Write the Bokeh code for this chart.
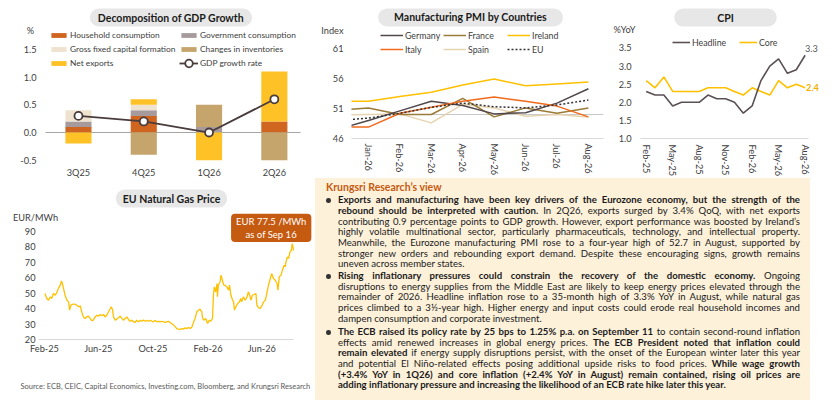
import numpy as np
from bokeh.plotting import figure
from bokeh.models import (Range1d, FixedTicker, NumeralTickFormatter, Span, Label,
                          Legend, LegendItem, Div, LinearAxis)
from bokeh.layouts import row, column
from bokeh.embed import file_html
from bokeh.resources import INLINE

FONT = "Lato"
TXT = "#404040"

# ---------------- data ----------------
gdp_quarters = ["3Q25", "4Q25", "1Q26", "2Q26"]
household = [0.1, 0.3, 0.0, 0.2]
government = [0.1, 0.1, 0.1, 0.0]
gfcf = [0.2, 0.1, 0.0, 0.0]
inventories = [0.0, -0.4, 0.4, -0.5]
net_exports = [-0.2, 0.1, -0.5, 0.9]
gdp_growth = [0.3, 0.2, 0.0, 0.6]

pmi_months = ["Dec-25", "Jan-26", "Feb-26", "Mar-26", "Apr-26", "May-26", "Jun-26", "Jul-26", "Aug-26"]
pmi_germany = [47.5, 49.0, 50.6, 52.2, 51.5, 50.1, 50.3, 51.9, 54.3]
pmi_france = [50.7, 51.1, 50.0, 50.0, 52.7, 49.6, 51.1, 50.2, 51.1]
pmi_ireland = [52.2, 52.2, 53.0, 53.7, 54.9, 55.9, 54.8, 55.1, 55.4]
pmi_italy = [47.9, 47.9, 50.2, 51.2, 52.2, 52.9, 52.2, 51.4, 49.6]
pmi_spain = [49.9, 50.0, 50.1, 48.6, 51.7, 51.1, 49.7, 50.0, 49.6]
pmi_eu = [49.0, 49.4, 50.2, 51.2, 51.9, 51.3, 51.1, 51.6, 52.4]

cpi_months = ["Feb-25", "Mar-25", "Apr-25", "May-25", "Jun-25", "Jul-25", "Aug-25", "Sep-25",
              "Oct-25", "Nov-25", "Dec-25", "Jan-26", "Feb-26", "Mar-26", "Apr-26", "May-26",
              "Jun-26", "Jul-26", "Aug-26"]
cpi_headline = [2.3, 2.2, 2.2, 1.9, 2.0, 2.0, 2.0, 2.2, 2.1, 2.1, 2.0, 1.7, 1.9, 2.6, 3.0, 3.2, 2.8, 2.9, 3.3]
cpi_core = [2.6, 2.4, 2.7, 2.3, 2.3, 2.3, 2.3, 2.4, 2.4, 2.4, 2.3, 2.2, 2.4, 2.3, 2.2, 2.6, 2.4, 2.5, 2.4]

# days since 1 Feb 2025
gas_day = [1, 5, 9, 13, 16, 20, 24, 28, 31, 35, 38, 40, 42, 46, 50, 54, 56, 59, 63, 68,
           72, 76, 80, 83, 87, 91, 94, 98, 102, 106, 109, 113, 117, 121, 124, 128, 132, 135, 139, 143,
           147, 149, 152, 154, 158, 161, 165, 169, 173, 176, 180, 184, 187, 191, 195, 199, 202, 206, 210, 214,
           217, 221, 225, 228, 232, 236, 240, 243, 247, 251, 254, 258, 262, 266, 269, 273, 277, 280, 284, 288,
           292, 295, 299, 303, 307, 310, 314, 318, 321, 325, 329, 333, 336, 340, 344, 347, 351, 353, 356, 360,
           364, 368, 371, 375, 377, 379, 382, 385, 386, 388, 392, 394, 397, 400, 403, 407, 411, 413, 416, 420,
           422, 424, 427, 431, 435, 438, 440, 444, 448, 452, 455, 458, 461, 464, 468, 472, 474, 478, 481, 485,
           489, 493, 496, 500, 504, 507, 511, 515, 519, 521, 524, 528, 531, 535, 537, 539, 542, 545, 548, 551,
           553, 556]
gas_price = [49.7, 46.5, 45.4, 47.6, 46.5, 49.7, 48.6, 50.8, 53.0, 55.0, 57.8, 56.0, 53.5, 48.6, 45.4, 44.3, 39.0, 42.2, 42.8, 42.8,
             42.2, 41.1, 41.7, 37.9, 34.6, 33.6, 34.6, 35.1, 33.6, 32.1, 32.5, 34.6, 35.7, 35.1, 36.2, 35.3, 36.2, 34.6, 35.7, 37.9,
             40.0, 41.1, 39.0, 34.6, 32.5, 33.1, 34.0, 35.1, 33.6, 32.5, 33.6, 34.6, 33.1, 31.8, 32.5, 31.4, 31.0, 32.5, 31.4, 32.5,
             31.8, 32.5, 31.8, 32.3, 31.8, 32.3, 31.8, 31.4, 32.3, 31.4, 31.8, 31.4, 31.8, 31.4, 31.0, 31.4, 31.8, 31.0, 30.3, 29.3,
             28.2, 27.1, 26.7, 26.5, 27.1, 26.7, 27.5, 27.1, 27.8, 27.1, 28.0, 31.4, 33.6, 37.9, 39.0, 39.6, 37.9, 33.6, 32.5, 33.6,
             30.3, 32.5, 31.8, 33.6, 48.6, 54.0, 50.8, 56.2, 47.6, 55.1, 57.3, 61.6, 58.3, 55.1, 55.1, 54.0, 51.9, 55.1, 48.6, 45.4,
             44.3, 39.0, 41.1, 43.3, 44.3, 46.5, 44.3, 47.6, 45.4, 47.6, 50.8, 48.6, 45.4, 48.6, 49.1, 49.7, 42.2, 40.5, 40.0, 41.7,
             44.3, 45.4, 49.7, 55.1, 59.4, 62.6, 59.4, 58.3, 56.2, 51.9, 60.5, 61.6, 64.8, 68.0, 67.0, 70.2, 73.4, 72.4, 76.6, 77.7,
             82.0, 77.5]
gas_tick_days = [0, 120, 242, 365, 485]
gas_tick_labels = ["Feb-25", "Jun-25", "Oct-25", "Feb-26", "Jun-26"]


def style_axis(ax, size="9.2px"):
    ax.major_tick_line_color = None
    ax.minor_tick_line_color = None
    ax.major_tick_out = 0
    ax.major_tick_in = 0
    ax.minor_tick_out = 0
    ax.minor_tick_in = 0
    ax.axis_line_color = None
    ax.major_label_text_font = FONT
    ax.major_label_text_color = TXT
    ax.major_label_text_font_size = size


def base_fig(w, h, xr, yr, ml=0, mr=0, mt=0, mb=0):
    p = figure(width=w, height=h, x_range=Range1d(*xr), y_range=Range1d(*yr),
               output_backend="svg", toolbar_location=None, tools="",
               min_border=0, min_border_left=ml, min_border_right=mr,
               min_border_top=mt, min_border_bottom=mb,
               outline_line_color=None, background_fill_color="white",
               border_fill_color="white")
    p.frame_align = False
    p.xgrid.visible = False
    p.ygrid.visible = False
    style_axis(p.xaxis[0])
    style_axis(p.yaxis[0])
    return p


def pill(p, x, y, text, pad_h):
    p.add_layout(Label(x=x, y=y, text=text, text_font=FONT, text_font_style="bold",
                       text_font_size="10.5px", text_color="#1a1a1a", text_align="center",
                       text_baseline="middle", background_fill_color="#E7E7E7",
                       border_line_color=None, border_radius=9,
                       padding=dict(left=pad_h, right=pad_h, top=3, bottom=3)))


def note(p, x, y, text, size="9.2px", align="center", color=TXT, style="normal"):
    p.add_layout(Label(x=x, y=y, text=text, text_font=FONT, text_font_size=size,
                       text_color=color, text_align=align, text_baseline="middle",
                       text_font_style=style))


def legend(p, items, loc, gw, gh, lh=12, size="8.8px"):
    lg = Legend(items=[LegendItem(label=l, renderers=r) for l, r in items], location=loc,
                orientation="vertical", glyph_width=gw, glyph_height=gh, label_height=lh,
                label_standoff=2, spacing=2, padding=0, margin=0,
                label_text_font=FONT, label_text_font_size=size, label_text_color=TXT,
                background_fill_alpha=0, border_line_alpha=0)
    p.add_layout(lg)


# ---------------- GDP (frame = whole figure, axes at fixed locations) ----------------
gx = np.arange(len(gdp_quarters))
p1 = base_fig(305, 178, (-1.194, 3.477), (-0.830, 2.383))
p1.yaxis[0].fixed_location = -0.505
p1.yaxis[0].ticker = FixedTicker(ticks=[-0.5, 0, 0.5, 1.0, 1.5])
p1.yaxis[0].formatter = NumeralTickFormatter(format="0.0")
p1.yaxis[0].major_label_standoff = 9
p1.xaxis[0].fixed_location = -0.5415
p1.xaxis[0].ticker = FixedTicker(ticks=list(gx))
p1.xaxis[0].major_label_overrides = {int(i): q for i, q in zip(gx, gdp_quarters)}
p1.xaxis[0].major_label_standoff = 4
zero_axis = LinearAxis(fixed_location=0, bounds=(-0.505, 3.40), ticker=FixedTicker(ticks=[]))
style_axis(zero_axis)
zero_axis.axis_line_color = "#A6A6A6"
zero_axis.level = "underlay"
p1.add_layout(zero_axis, "below")

comps = [("Household consumption", household, "#CF651F"),
         ("Government consumption", government, "#A69A9C"),
         ("Gross fixed capital formation", gfcf, "#EFE3CF"),
         ("Changes in inventories", inventories, "#C6A56C"),
         ("Net exports", net_exports, "#FFC226")]
pos = np.zeros(len(gx))
neg = np.zeros(len(gx))
rmap = {}
for name, vals, col in comps:
    v = np.array(vals, dtype=float)
    bottom = np.where(v >= 0, pos, neg + v)
    top = np.where(v >= 0, pos + v, neg)
    pos = pos + np.clip(v, 0, None)
    neg = neg + np.clip(v, None, 0)
    rmap[name] = p1.vbar(x=gx, width=0.4, bottom=bottom, top=top, fill_color=col, line_color=None)
DARK = "#4A3C3C"
rl = p1.line(gx, gdp_growth, line_color=DARK, line_width=1.8)
rs = p1.scatter(gx, gdp_growth, marker="circle", size=8, fill_color="white", line_color=DARK, line_width=1.8)
legend(p1, [("Household consumption", [rmap["Household consumption"]]),
            ("Gross fixed capital formation", [rmap["Gross fixed capital formation"]]),
            ("Net exports", [rmap["Net exports"]])], (49, 109), 19, 6, size="8.4px")
legend(p1, [("Government consumption", [rmap["Government consumption"]]),
            ("Changes in inventories", [rmap["Changes in inventories"]])], (179, 123), 19, 6, size="8.4px")
legend(p1, [("GDP growth rate", [rl, rs])], (179, 105), 19, 20, 20, size="8.4px")
pill(p1, 1.417, 2.076, "Decomposition of GDP Growth", 8)
note(p1, -0.735, 1.841, "%")

# ---------------- PMI (frame clipped to the plot area) ----------------
px = np.arange(len(pmi_months))
p2 = base_fig(305, 178, (0.46, 8.48), (46, 69.0), 46, 7, 0, 40)
p2.yaxis[0].ticker = FixedTicker(ticks=[46, 51, 56, 61, 64])
p2.yaxis[0].major_label_overrides = {64: "Index"}
p2.yaxis[0].major_label_standoff = 8
p2.xaxis[0].ticker = FixedTicker(ticks=list(px[1:]))
p2.xaxis[0].major_label_overrides = {int(i): m for i, m in zip(px, pmi_months)}
p2.xaxis[0].major_label_orientation = "vertical"
p2.xaxis[0].major_label_standoff = 5
p2.xaxis[0].axis_line_color = "#D9D9D9"
p2.add_layout(Span(location=50, dimension="width", line_color="#C8C8C8", line_width=1, level="underlay"))
r_sp = p2.line(px, pmi_spain, line_color="#E6D3B0", line_width=1.5)
r_fr = p2.line(px, pmi_france, line_color="#9A7B38", line_width=1.5)
r_de = p2.line(px, pmi_germany, line_color="#50474B", line_width=1.5)
r_it = p2.line(px, pmi_italy, line_color="#F06A1E", line_width=1.5)
r_ie = p2.line(px, pmi_ireland, line_color="#FFC000", line_width=1.5)
r_eu = p2.line(px, pmi_eu, line_color="#333333", line_width=1.5, line_dash="2 2")
legend(p2, [("Germany", [r_de]), ("Italy", [r_it])], (29, 83), 23, 6)
legend(p2, [("France", [r_fr]), ("Spain", [r_sp])], (92, 83), 23, 6)
legend(p2, [("Ireland", [r_ie]), ("EU", [r_eu])], (156, 83), 23, 6)
pill(p2, 4.247, 66.17, "Manufacturing PMI by Countries", 16)

# ---------------- CPI (frame = whole figure) ----------------
cx = np.arange(len(cpi_months))
p3 = base_fig(230, 178, (-4.043, 22.01), (-0.105, 4.812))
p3.yaxis[0].fixed_location = -0.645
p3.yaxis[0].ticker = FixedTicker(ticks=[1.0, 1.5, 2.0, 2.5, 3.0, 3.5])
p3.yaxis[0].formatter = NumeralTickFormatter(format="0.0")
p3.yaxis[0].major_label_standoff = 9
p3.xaxis[0].fixed_location = 1.0
p3.xaxis[0].bounds = (-0.645, 18.38)
p3.xaxis[0].ticker = FixedTicker(ticks=list(cx[::3]))
p3.xaxis[0].major_label_overrides = {int(i): cpi_months[i] for i in cx[::3]}
p3.xaxis[0].major_label_orientation = "vertical"
p3.xaxis[0].major_label_standoff = 6
p3.xaxis[0].axis_line_color = "#D9D9D9"
r_core = p3.line(cx, cpi_core, line_color="#FFC000", line_width=1.6)
r_head = p3.line(cx, cpi_headline, line_color="#5A5055", line_width=1.6)
legend(p3, [("Headline", [r_head])], (62, 130), 18, 6)
legend(p3, [("Core", [r_core])], (129, 130), 18, 6)
pill(p3, 8.98, 4.34, "CPI", 43)
note(p3, -2.46, 4.01, "%YoY")
note(p3, cx[-1] + 0.72, cpi_headline[-1] + 0.19, f"{cpi_headline[-1]:.1f}", color="#595959")
note(p3, cx[-1] + 0.84, cpi_core[-1] + 0.01, f"{cpi_core[-1]:.1f}", color="#F0B000", style="bold")

# ---------------- Gas (frame = whole figure) ----------------
p4 = base_fig(313, 229, (-98.2, 600.4), (-23.96, 124.07))
p4.yaxis[0].fixed_location = -13.4
p4.yaxis[0].ticker = FixedTicker(ticks=[20, 30, 40, 50, 60, 70, 80, 90])
p4.yaxis[0].major_label_standoff = 3
p4.xaxis[0].fixed_location = 20
p4.xaxis[0].bounds = (-13.4, 556)
p4.xaxis[0].ticker = FixedTicker(ticks=gas_tick_days)
p4.xaxis[0].major_label_overrides = dict(zip(gas_tick_days, gas_tick_labels))
p4.xaxis[0].major_label_standoff = 4
p4.xaxis[0].axis_line_color = "#D9D9D9"
p4.line(gas_day, gas_price, line_color="#FFC000", line_width=1.3)
pill(p4, 283.5, 111.1, "EU Natural Gas Price", 7)
note(p4, -20.1, 98.9, "EUR/MWh")
p4.add_layout(Label(x=506, y=92.1, text=f"EUR {gas_price[-1]} /MWh\nas of Sep 16", text_font=FONT,
                    text_font_size="9.5px", text_color="white", text_align="center",
                    text_baseline="middle", background_fill_color="#C55A11",
                    border_line_color=None, border_radius=4,
                    padding=dict(left=5, right=5, top=2, bottom=2)))
note(p4, -53.6, -10.4, "Source: ECB, CEIC, Capital Economics, Investing.com, Bloomberg, and Krungsri Research",
     size="7.5px", align="left", color="#595959")

# ---------------- Text panel ----------------
view_title = "Krungsri Research’s view"
paragraphs = [
    ["**Exports and manufacturing have been key drivers of the Eurozone economy, but the strength of the**",
     "**rebound should be interpreted with caution.** In 2Q26, exports surged by 3.4% QoQ, with net exports",
     "contributing 0.9 percentage points to GDP growth. However, export performance was boosted by Ireland’s",
     "highly volatile multinational sector, particularly pharmaceuticals, technology, and intellectual property.",
     "Meanwhile, the Eurozone manufacturing PMI rose to a four-year high of 52.7 in August, supported by",
     "stronger new orders and rebounding export demand. Despite these encouraging signs, growth remains",
     "uneven across member states."],
    ["**Rising inflationary pressures could constrain the recovery of the domestic economy.** Ongoing",
     "disruptions to energy supplies from the Middle East are likely to keep energy prices elevated through the",
     "remainder of 2026. Headline inflation rose to a 35-month high of 3.3% YoY in August, while natural gas",
     "prices climbed to a 3½-year high. Higher energy and input costs could erode real household incomes and",
     "dampen consumption and corporate investment."],
    ["**The ECB raised its policy rate by 25 bps to 1.25% p.a. on September 11** to contain second-round inflation",
     "effects amid renewed increases in global energy prices. **The ECB President noted that inflation could**",
     "**remain elevated** if energy supply disruptions persist, with the onset of the European winter later this year",
     "and potential El Niño-related effects posing additional upside risks to food prices. **While wage growth**",
     "**(+3.4% YoY in 1Q26) and core inflation (+2.4% YoY in August) remain contained, rising oil prices are**",
     "**adding inflationary pressure and increasing the likelihood of an ECB rate hike later this year.**"],
]


def md(s):
    parts = s.split("**")
    return "".join(f"<b>{t}</b>" if i % 2 else t for i, t in enumerate(parts))


para_tops = [17.4, 93.0, 149.0]
LH = 10.65
html = ['<div style="position:relative;width:495px;height:222px;margin-left:2px;'
        'background:#FDF1DA;font-family:Lato;color:#1A1A1A;">']
html.append(f'<div style="position:absolute;left:11px;top:2px;font-size:10.5px;font-weight:bold;'
            f'color:#C55A11;white-space:nowrap;">{view_title}</div>')
for top, lines in zip(para_tops, paragraphs):
    html.append(f'<div style="position:absolute;left:11px;top:{top + LH / 2 - 2.3:.1f}px;width:4.6px;'
                f'height:4.6px;border-radius:50%;background:#333;"></div>')
    html.append(f'<div style="position:absolute;left:23px;top:{top}px;width:462px;font-size:9.6px;'
                f'line-height:{LH}px;">')
    for k, ln in enumerate(lines):
        al = "left" if k == len(lines) - 1 else "justify"
        html.append(f'<div style="height:{LH}px;white-space:nowrap;text-align:{al};'
                    f'text-align-last:{al};">{md(ln)}</div>')
    html.append('</div>')
html.append('</div>')
panel = Div(text="".join(html), width=527, height=229, margin=(0, 0, 0, 0))

layout = column(row(p1, p2, p3, spacing=0), row(p4, panel, spacing=0), spacing=0)
open("out.html", "w").write(file_html(layout, INLINE))
